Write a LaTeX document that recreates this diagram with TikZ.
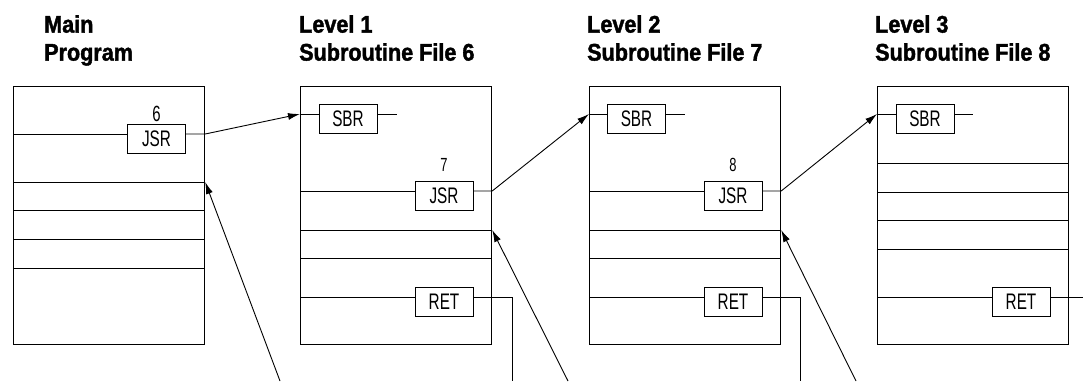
\documentclass[tikz,border=0pt]{standalone}
\usepackage{fontspec}
\setmainfont{Liberation Sans}
\newfontfamily\titlefont[FakeStretch=0.9, BoldFeatures={FakeBold=1.6}]{Liberation Sans}
\newfontfamily\instrfont[FakeStretch=0.68]{Liberation Sans}
\usetikzlibrary{positioning,arrows.meta}

\begin{document}
\begin{tikzpicture}[
        x=1pt, y=-1pt,
        prog/.style={draw, line width=1.2pt, anchor=north west, minimum width=191pt, minimum height=258pt, inner sep=0pt},
        instr/.style={draw, line width=1pt, minimum width=58pt, minimum height=29pt, inner sep=0pt, font=\instrfont\fontsize{22.5}{22.5}\selectfont},
        filenum/.style={inner sep=0pt, font=\instrfont\fontsize{19}{19}\selectfont},
        heading/.style={anchor=north west, inner sep=0pt, align=left, font=\titlefont\bfseries\fontsize{24}{28}\selectfont},
        rung/.style={line width=1pt},
        call/.style={line width=0.9pt, -{Latex[length=12pt,width=7pt]}}
    ]
    \useasboundingbox (0,0) rectangle (1085,381);

    % Nadpisy
    \node[heading] (t0) at (44,15) {Main\\Program};
    \node[heading] (t1) at (299,15) {Level 1\\Subroutine File 6};
    \node[heading] (t2) at (587,15) {Level 2\\Subroutine File 7};
    \node[heading] (t3) at (875,15) {Level 3\\Subroutine File 8};

    % Programove soubory
    \node[prog] (main) at (13,86) {};
    \node[prog] (lvl1) at (300,86) {};
    \node[prog] (lvl2) at (589,86) {};
    \node[prog] (lvl3) at (877,86) {};

    % Instrukce
    \node[instr] (jsr0) at (156.5,138.5) {JSR};
    \node[filenum, above=1.5pt of jsr0, font=\instrfont\fontsize{22}{22}\selectfont] (n6) {6};

    \node[instr] (sbr1) at (348,119) {SBR};
    \node[instr] (jsr1) at (444,195.5) {JSR};
    \node[filenum, above=8.5pt of jsr1] (n7) {7};
    \node[instr] (ret1) at (444,301.5) {RET};

    \node[instr] (sbr2) at (636.5,119) {SBR};
    \node[instr] (jsr2) at (733,195.5) {JSR};
    \node[filenum, above=8.5pt of jsr2] (n8) {8};
    \node[instr] (ret2) at (733,301.5) {RET};

    \node[instr] (sbr3) at (925,119) {SBR};
    \node[instr] (ret3) at (1021,301.5) {RET};

    % Hlavni program - pricky
    \draw[rung] (main.west |- 0,134) -- (jsr0.west |- 0,134);
    \draw[rung] (main.west |- 0,182) -- (main.east |- 0,182);
    \draw[rung] (main.west |- 0,210) -- (main.east |- 0,210);
    \draw[rung] (main.west |- 0,239) -- (main.east |- 0,239);
    \draw[rung] (main.west |- 0,268) -- (main.east |- 0,268);

    % Uroven 1
    \draw[rung] (lvl1.west |- 0,114) -- (sbr1.west |- 0,114);
    \draw[rung] (sbr1.east |- 0,114) -- (397,114);
    \draw[rung] (lvl1.west |- 0,191) -- (jsr1.west |- 0,191);
    \draw[rung] (lvl1.west |- 0,230) -- (lvl1.east |- 0,230);
    \draw[rung] (lvl1.west |- 0,258) -- (lvl1.east |- 0,258);
    \draw[rung] (lvl1.west |- 0,297) -- (ret1.west |- 0,297);

    % Uroven 2
    \draw[rung] (lvl2.west |- 0,114) -- (sbr2.west |- 0,114);
    \draw[rung] (sbr2.east |- 0,114) -- (685,114);
    \draw[rung] (lvl2.west |- 0,191) -- (jsr2.west |- 0,191);
    \draw[rung] (lvl2.west |- 0,230) -- (lvl2.east |- 0,230);
    \draw[rung] (lvl2.west |- 0,258) -- (lvl2.east |- 0,258);
    \draw[rung] (lvl2.west |- 0,297) -- (ret2.west |- 0,297);

    % Uroven 3
    \draw[rung] (lvl3.west |- 0,114) -- (sbr3.west |- 0,114);
    \draw[rung] (sbr3.east |- 0,114) -- (973,114);
    \draw[rung] (lvl3.west |- 0,163) -- (lvl3.east |- 0,163);
    \draw[rung] (lvl3.west |- 0,192) -- (lvl3.east |- 0,192);
    \draw[rung] (lvl3.west |- 0,220) -- (lvl3.east |- 0,220);
    \draw[rung] (lvl3.west |- 0,249) -- (lvl3.east |- 0,249);
    \draw[rung] (lvl3.west |- 0,297) -- (ret3.west |- 0,297);

    % Volani podprogramu (JSR -> SBR)
    \draw[call] (jsr0.east |- 0,134) -- (main.east |- 0,134) -- (lvl1.west |- 0,114);
    \draw[call] (jsr1.east |- 0,191) -- (lvl1.east |- 0,191) -- (lvl2.west |- 0,114);
    \draw[call] (jsr2.east |- 0,191) -- (lvl2.east |- 0,191) -- (lvl3.west |- 0,114);

    % Navraty (RET)
    \coordinate (out1) at (512,381);
    \coordinate (out2) at (800,381);
    \coordinate (out3) at (1083,297);
    \draw[rung] (ret1.east |- 0,297) -| (out1);
    \draw[rung] (ret2.east |- 0,297) -| (out2);
    \draw[rung] (ret3.east |- 0,297) -- (out3);

    \coordinate (back0) at (280,381);
    \coordinate (back1) at (568,381);
    \coordinate (back2) at (856,381);
    \draw[call] (back0) -- (main.east |- 0,182);
    \draw[call] (back1) -- (lvl1.east |- 0,230);
    \draw[call] (back2) -- (lvl2.east |- 0,230);

    \end{tikzpicture}
\end{document}
